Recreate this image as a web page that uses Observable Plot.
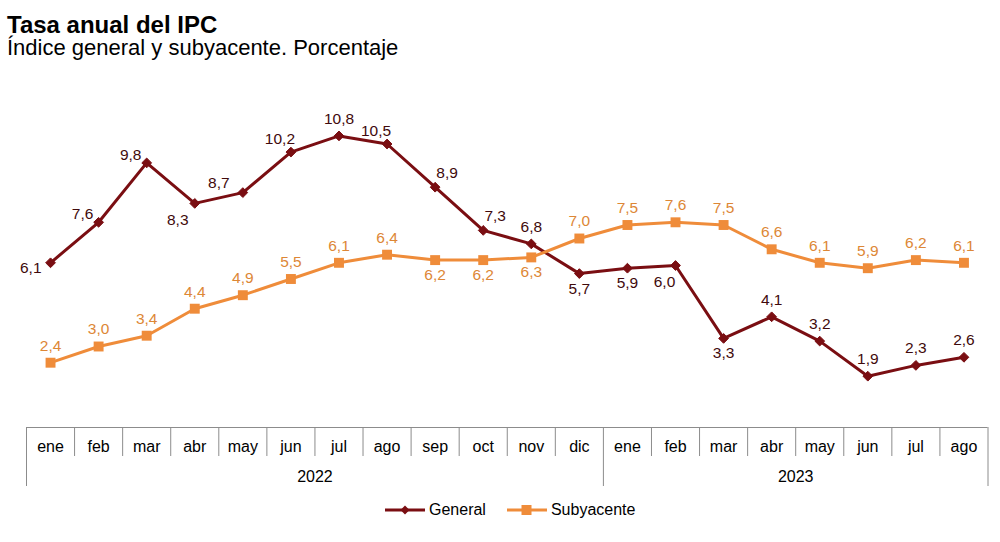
<!DOCTYPE html>
<html>
<head>
<meta charset="utf-8">
<script src="https://cdn.jsdelivr.net/npm/d3@7"></script>
<script src="https://cdn.jsdelivr.net/npm/@observablehq/plot@0.6"></script>
<style>
  html, body { margin: 0; padding: 0; background: #fff; }
  body { width: 1000px; height: 542px; position: relative; overflow: hidden; font-family: "Liberation Sans", Arial, sans-serif; }
  #title { position: absolute; left: 7px; top: 12.7px; font-size: 24px; line-height: 24px; font-weight: bold; color: #000; }
  #subtitle { position: absolute; left: 7px; top: 37.4px; font-size: 22px; line-height: 22px; color: #000; }
  #chart { position: absolute; left: 0; top: 64px; }
  #legend { position: absolute; left: 385px; top: 499px; display: flex; align-items: center; font-size: 16px; line-height: 22px; color: #000; }
  #legend .item { display: flex; align-items: center; }
  #legend svg { display: block; }
</style>
</head>
<body>
<div id="title">Tasa anual del IPC</div>
<div id="subtitle">Índice general y subyacente. Porcentaje</div>
<div id="chart"></div>
<div id="legend"></div>
<script>
// ---- data ----
const months = ["ene","feb","mar","abr","may","jun","jul","ago","sep","oct","nov","dic",
                "ene","feb","mar","abr","may","jun","jul","ago"];
const years = ["2022", "2023"];
const monthsPerYear = [12, 8];
const general = [6.1, 7.6, 9.8, 8.3, 8.7, 10.2, 10.8, 10.5, 8.9, 7.3, 6.8, 5.7,
                 5.9, 6.0, 3.3, 4.1, 3.2, 1.9, 2.3, 2.6];
const subyacente = [2.4, 3.0, 3.4, 4.4, 4.9, 5.5, 6.1, 6.4, 6.2, 6.2, 6.3, 7.0,
                    7.5, 7.6, 7.5, 6.6, 6.1, 5.9, 6.2, 6.1];
// semantic label placement for each point
const generalLabelPlace = ["left","upleft","upleft","downleft","aboveleft2","aboveleft","above","aboveleft","aboveright","aboveright",
                           "above","below","below","belowleft","below","above","above","above","above","above"];
const subyacenteLabelPlace = ["above","above","above","above","above","above","above","above","below","below",
                              "below","above","above","above","above","above","above","above","above","above"];

// ---- styles ----
const colGeneral = "#7a0e12";
const colGeneralText = "#3f0a0c";
const colSub = "#ef8c3a";
const colSubText = "#dd8736";
const axisGray = "#8c8c8c";

const placeOffsets = {
  left:       {dx: -9,  dy: 5,   anchor: "end"},
  upleft:     {dx: -16, dy: -8,  anchor: "middle"},
  downleft:   {dx: -17, dy: 17,  anchor: "middle"},
  aboveleft:  {dx: -11, dy: -13, anchor: "middle"},
  aboveleft2: {dx: -24, dy: -10, anchor: "middle"},
  above:      {dx: 0,   dy: -17, anchor: "middle"},
  aboveright: {dx: 12,  dy: -14, anchor: "middle"},
  below:      {dx: 0,   dy: 15,  anchor: "middle"},
  belowleft:  {dx: -11, dy: 17,  anchor: "middle"}
};

const fmt = v => v.toFixed(1).replace(".", ",");

const gData = general.map((v, i) => ({i, v, place: generalLabelPlace[i]}));
const sData = subyacente.map((v, i) => ({i, v, place: subyacenteLabelPlace[i]}));

// year boundaries
const yearStarts = [];
{ let s = 0; for (const n of monthsPerYear) { yearStarts.push(s); s += n; } }
const yearBounds = [...yearStarts.map(s => s - 0.5), months.length - 0.5];
const yearCenters = yearStarts.map((s, k) => s + (monthsPerYear[k] - 1) / 2);
const monthBounds = d3.range(1, months.length).filter(i => !yearStarts.includes(i)).map(i => i - 0.5);

function labelMarks(data, fill) {
  return Object.entries(placeOffsets).map(([key, o]) =>
    Plot.text(data.filter(d => d.place === key), {
      x: "i", y: "v", text: d => fmt(d.v),
      dx: o.dx, dy: o.dy, textAnchor: o.anchor,
      fill, fontSize: 15.5, fontFamily: "Liberation Sans, Arial, sans-serif"
    })
  );
}

const W = 1000, H = 431;
const chart = Plot.plot({
  width: W, height: H,
  marginLeft: 26, marginRight: 12.5, marginTop: 39, marginBottom: 68,
  style: {fontFamily: "Liberation Sans, Arial, sans-serif", background: "#fff", color: "#000", overflow: "visible"},
  x: {domain: [-0.5, months.length - 0.5], axis: null, label: null},
  y: {domain: [0, 12], axis: null, label: null},
  marks: [
    Plot.ruleY([0], {stroke: axisGray, strokeWidth: 1}),
    Plot.axisX({ticks: monthBounds, tickSize: 29, tickFormat: () => "", label: null, stroke: axisGray, strokeWidth: 1}),
    Plot.axisX({ticks: yearBounds, tickSize: 59, tickFormat: () => "", label: null, stroke: axisGray, strokeWidth: 1}),
    Plot.axisX({ticks: d3.range(months.length), tickSize: 0, tickPadding: 13, label: null, tickFormat: i => months[i], fontSize: 16, fill: "#000"}),
    Plot.axisX({ticks: yearCenters, tickSize: 0, tickPadding: 43, label: null, tickFormat: c => years[yearCenters.indexOf(c)], fontSize: 16, fill: "#000"}),
    Plot.line(gData, {x: "i", y: "v", stroke: colGeneral, strokeWidth: 3}),
    Plot.dot(gData, {x: "i", y: "v", symbol: "diamond2", r: 4.4, fill: colGeneral, stroke: colGeneral, strokeWidth: 1}),
    Plot.line(sData, {x: "i", y: "v", stroke: colSub, strokeWidth: 3}),
    Plot.dot(sData, {x: "i", y: "v", symbol: "square", r: 5.6, fill: colSub}),
    ...labelMarks(gData, colGeneralText),
    ...labelMarks(sData, colSubText)
  ]
});
document.getElementById("chart").appendChild(chart);

// ---- legend ----
const legendItems = [
  {name: "General", color: colGeneral, symbol: "diamond"},
  {name: "Subyacente", color: colSub, symbol: "square"}
];
const legend = document.getElementById("legend");
legendItems.forEach((it, k) => {
  const item = document.createElement("div");
  item.className = "item";
  item.style.marginRight = k === 0 ? "21px" : "0";
  const sw = d3.create("svg").attr("width", 41).attr("height", 14);
  sw.append("line").attr("x1", 0).attr("x2", 40).attr("y1", 7).attr("y2", 7)
    .attr("stroke", it.color).attr("stroke-width", 3);
  if (it.symbol === "diamond") {
    sw.append("path").attr("d", "M20,2.5L24.5,7L20,11.5L15.5,7Z").attr("fill", it.color);
  } else {
    sw.append("rect").attr("x", 14.5).attr("y", 2).attr("width", 10).attr("height", 10).attr("fill", it.color);
  }
  item.appendChild(sw.node());
  const t = document.createElement("span");
  t.textContent = it.name;
  t.style.marginLeft = "3px";
  item.appendChild(t);
  legend.appendChild(item);
});
</script>
</body>
</html>
